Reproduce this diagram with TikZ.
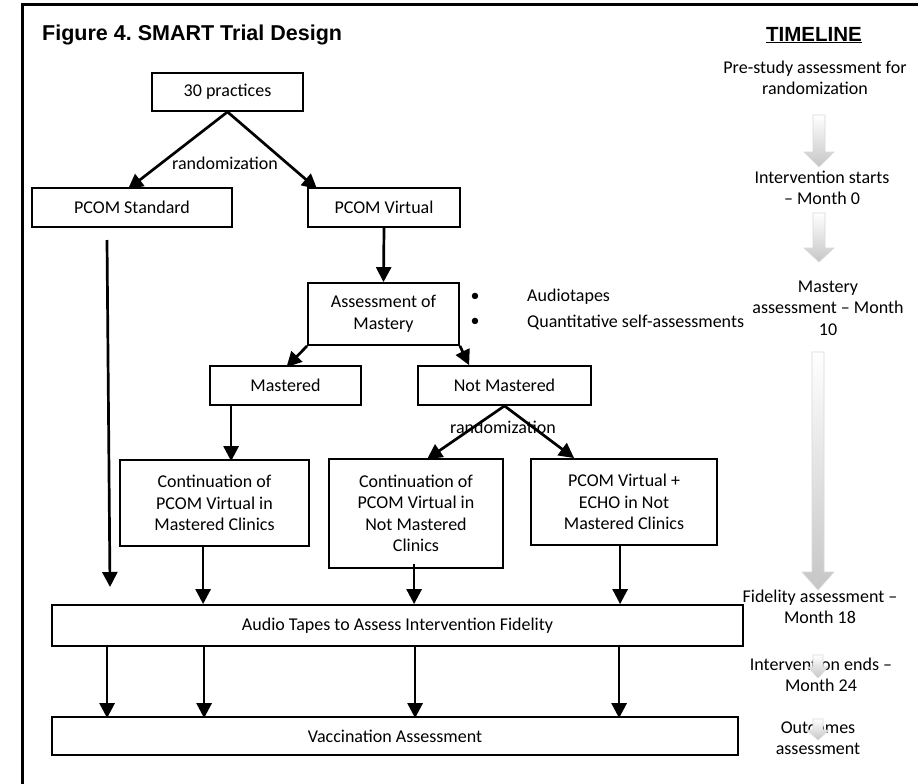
\documentclass[tikz,border=0pt]{standalone}
\usepackage{fontspec}
\setmainfont{Carlito}
\newfontfamily\arialfont{Liberation Sans}
\usetikzlibrary{arrows.meta,calc}
\frenchspacing
\begin{document}
\begin{tikzpicture}[x=1pt,y=-1pt,
  every node/.style={font=\fontsize{18}{21.5}\selectfont},
  box/.style={draw,line width=1.8pt,inner sep=0pt,align=center,anchor=center},
  arr/.style={line width=2.7pt,-{Triangle[width=15pt,length=15pt]}},
  lbl/.style={inner sep=0pt,align=center},
  grayarrow/.style={draw=gray!30,line width=0.6pt,top color=white,bottom color=gray!45}]
\useasboundingbox (0,0) rectangle (918,784);
\fill[white] (0,0) rectangle (918,784);
% frame
\draw[line width=3pt] (22,800) -- (22,5) -- (930,5);
% titles
\node[lbl,anchor=west,font=\arialfont\bfseries\fontsize{21.5}{24}\selectfont] (title) at (42,35) {Figure 4. SMART Trial Design};
\node[lbl,font=\arialfont\bfseries\fontsize{20.5}{24}\selectfont] (tl) at (814,35) {\underline{TIMELINE}};
% boxes
\node[box,minimum width=151,minimum height=38] (prac) at (227.5,92) {30 practices};
\node[box,minimum width=200,minimum height=39] (std) at (132,207.5) {PCOM Standard};
\node[box,minimum width=152,minimum height=39] (virt) at (384,207.5) {PCOM Virtual};
\node[box,minimum width=151,minimum height=62] (assess) at (383.5,314) {Assessment of\\Mastery};
\node[box,minimum width=151,minimum height=39] (mast) at (285.5,385.5) {Mastered};
\node[box,minimum width=173,minimum height=39] (notm) at (504.5,385.5) {Not Mastered};
\node[box,minimum width=189,minimum height=86] (contm) at (214.5,503) {Continuation of\\PCOM Virtual in\\Mastered Clinics};
\node[box,minimum width=174,minimum height=109] (contnm) at (416,513.5) {Continuation of\\PCOM Virtual in\\Not Mastered\\Clinics};
\node[box,minimum width=186,minimum height=86] (echo) at (624,502) {PCOM Virtual +\\ECHO in Not\\Mastered Clinics};
\node[box,minimum width=691,minimum height=41] (audio) at (397.5,625.5) {Audio Tapes to Assess Intervention Fidelity};
\node[box,minimum width=686,minimum height=38] (vacc) at (395,736) {Vaccination Assessment};
% labels
\node[lbl] (rand1) at (225,163) {randomization};
\node[lbl] (rand2) at (503,427) {randomization};
\node[lbl] (b1) at (475,297) {•};
\node[lbl] (b2) at (475,322) {•};
\node[lbl,anchor=west] (t1) at (527,297) {Audiotapes};
\node[lbl,anchor=west] (t2) at (527,322) {Quantitative self-assessments};
% timeline texts
\node[lbl] (tl1) at (815,78) {Pre-study assessment for\\randomization};
\node[lbl] (tl2) at (822,188) {Intervention starts\\– Month 0};
\node[lbl] (tl3) at (828,308) {Mastery\\assessment – Month\\10};
\node[lbl] (tl4) at (820,607) {Fidelity assessment –\\Month 18};
\node[lbl] (tl5) at (821,675) {Intervention ends –\\Month 24};
\node[lbl] (tl6) at (818,738) {Outcomes\\assessment};
% connectors
\draw[arr] (prac.south) -- ([xshift=-4,yshift=-2]std.north);
\draw[arr] (prac.south) -- ([xshift=10,yshift=-2]virt.north west);
\coordinate (sa) at (107,240);
\coordinate (sb) at (110,587);
\draw[arr] (sa) -- (sb);
\draw[arr] (virt.south) -- (assess.north);
\draw[arr] (assess.south west) -- ([xshift=1,yshift=-2]mast.north);
\draw[arr] (assess.south east) -- ([xshift=52]notm.north west);
\draw[arr] ([xshift=22]mast.south west) -- ([xshift=112,yshift=-2]contm.north west);
\draw[arr] (notm.south) -- ([xshift=99,yshift=-1]contnm.north west);
\draw[arr] (notm.south) -- ([xshift=44]echo.north west);
\draw[arr] ([xshift=84]contm.south west) -- ([xshift=152]audio.north west);
\draw[arr] ([xshift=86,yshift=5]contnm.south west) -- ([xshift=363]audio.north west);
\draw[arr] ([xshift=90]echo.south west) -- ([xshift=569]audio.north west);
\foreach \dx in {56,153,364,568}{
  \draw[arr] ([xshift=\dx]audio.south west) -- ([xshift=\dx,yshift=-2]vacc.north west);
}
% gray timeline arrows
\path[grayarrow] (813,115) -- (825,115) -- (825,152) -- (834,152) -- (819,167) -- (804,152) -- (813,152) -- cycle;
\path[grayarrow] (813,213) -- (825,213) -- (825,248) -- (834,248) -- (819,262) -- (804,248) -- (813,248) -- cycle;
\path[grayarrow] (812,352) -- (824,352) -- (824,572) -- (834,572) -- (818,590) -- (802,572) -- (812,572) -- cycle;
\path[grayarrow] (813,655) -- (823,655) -- (823,667) -- (828,667) -- (818,678) -- (808,667) -- (813,667) -- cycle;
\path[grayarrow] (813,719) -- (823,719) -- (823,730) -- (829,730) -- (818,740) -- (807,730) -- (813,730) -- cycle;
\end{tikzpicture}
\end{document}
